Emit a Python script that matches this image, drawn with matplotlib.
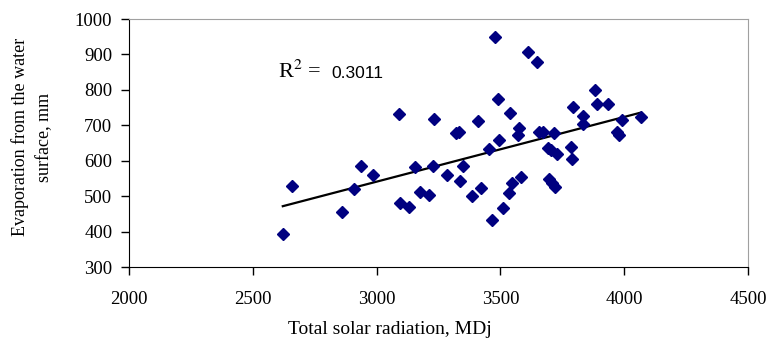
import numpy as np
import matplotlib
matplotlib.use("Agg")
import matplotlib.pyplot as plt

plt.rcParams['font.family'] = ['Liberation Serif', 'DejaVu Serif']
plt.rcParams['mathtext.fontset'] = 'stix'

# radiación solar total (MDj) vs evaporación (mm)
radiation = [2621, 2659, 2859, 2910, 2936, 2984, 3091, 3095, 3131, 3153,
             3176, 3212, 3228, 3230, 3283, 3320, 3334, 3337, 3347, 3384,
             3408, 3422, 3453, 3465, 3479, 3491, 3496, 3509, 3535, 3539,
             3546, 3571, 3577, 3584, 3610, 3647, 3655, 3671, 3692, 3697,
             3705, 3707, 3716, 3720, 3728, 3785, 3791, 3795, 3832, 3834,
             3883, 3889, 3934, 3970, 3977, 3990, 4068]
evaporation = [393, 529, 454, 519, 586, 560, 732, 482, 470, 582,
               511, 503, 586, 717, 560, 679, 682, 543, 585, 501,
               711, 524, 634, 433, 948, 774, 659, 467, 508, 734,
               538, 672, 691, 555, 908, 878, 682, 682, 637, 549,
               630, 536, 679, 525, 619, 638, 604, 751, 705, 727,
               800, 760, 760, 682, 673, 716, 724]
r2_value = "0.3011"

x = np.array(radiation)
y = np.array(evaporation)
slope, intercept = np.polyfit(x, y, 1)
xs = np.array([x.min(), x.max()])

fig = plt.figure(figsize=(7.68, 3.4), dpi=100)
ax = fig.add_axes([0.168, 0.2147, 0.806, 0.7293])

ax.plot(xs, slope * xs + intercept, color='black', lw=1.6, zorder=2)
ax.plot(x, y, linestyle='none', marker='D', ms=6, color='#000080', zorder=3)

ax.set_xlim(2000, 4500)
ax.set_ylim(300, 1000)
ax.set_xticks(range(2000, 4501, 500))
ax.set_yticks(range(300, 1001, 100))
ax.tick_params(direction='out', length=6, width=1, labelsize=13.5, colors='black')
ax.tick_params(axis='y', pad=6)
ax.tick_params(axis='x', pad=11)

for side in ['top', 'right']:
    ax.spines[side].set_color('#a0a0a0')
for side in ['left', 'bottom']:
    ax.spines[side].set_color('black')

# etiqueta R² (la parte numérica va en letra sin serifa, como en el original)
ax.text(2602, 833, r'R$^2$ =', fontsize=16, va='baseline')
ax.text(2818, 833, r2_value, fontsize=12.5, va='baseline', family='Liberation Sans')

fig.text(390 / 768, 1 - 330 / 340, 'Total solar radiation, MDj',
         fontsize=14, ha='center', va='center')
fig.text(32 / 768, 1 - 137 / 340, 'Evaporation from the water\nsurface, mm',
         fontsize=13, ha='center', va='center', rotation=90,
         multialignment='center', linespacing=1.6)

fig.savefig('out.png', dpi=100)
